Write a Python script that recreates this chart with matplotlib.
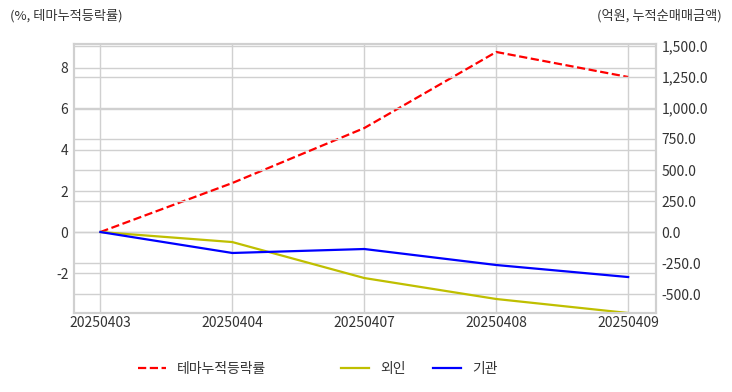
import matplotlib
matplotlib.use('Agg')
import matplotlib.pyplot as plt
from matplotlib.ticker import FuncFormatter, FixedLocator
from matplotlib.lines import Line2D

# 데이터
dates = ['20250403', '20250404', '20250407', '20250408', '20250409']
theme_rate = [0.0, 2.39, 5.07, 8.78, 7.56]          # %, 테마누적등락률
foreign_amt = [0.0, -81.0, -371.0, -540.0, -653.0]   # 억원, 외인
inst_amt = [0.0, -169.0, -137.0, -266.0, -363.0]     # 억원, 기관
left_ticks = [-2, 0, 2, 4, 6, 8]
right_ticks = [-500, -250, 0, 250, 500, 750, 1000, 1250, 1500]

plt.rcParams['font.family'] = ['Noto Sans CJK KR', 'DejaVu Sans']
plt.rcParams['axes.unicode_minus'] = False

GRID = '#d0d0d0'
TXT = '#333333'

fig = plt.figure(figsize=(7.32, 3.92), dpi=100)
ax = fig.add_axes([0.1011, 0.2015, 0.7949, 0.6863])
ax2 = ax.twinx()

x = list(range(len(dates)))
ax.plot(x, theme_rate, 'r--', lw=1.6, label='테마누적등락률')
ax2.plot(x, foreign_amt, color='#bfbf00', lw=1.6, label='외인')
ax2.plot(x, inst_amt, color='#0000ff', lw=1.6, label='기관')

ax.set_xlim(-0.2, 4.21)
ax.set_ylim(-3.95, 9.17)
ax2.set_ylim(-653, 1516)

ax.set_xticks(x)
ax.set_xticklabels(dates)
ax.yaxis.set_major_locator(FixedLocator(left_ticks))
ax2.yaxis.set_major_locator(FixedLocator(right_ticks))
ax2.yaxis.set_major_formatter(FuncFormatter(lambda v, p: f'{v:,.1f}'))

for a in (ax, ax2):
    a.tick_params(length=0, labelsize=10, colors=TXT, pad=4)
    a.grid(True, color=GRID, lw=1.0)
    for s in a.spines.values():
        s.set_color(GRID)
        s.set_linewidth(1.5)
ax2.grid(axis='x', visible=False)
ax.set_axisbelow(True)
ax2.set_axisbelow(True)
ax.tick_params(axis='x', pad=2)

fig.text(10 / 732, 1 - 16 / 392, '(%, 테마누적등락률)', ha='left', va='center',
         fontsize=9.5, color=TXT)
fig.text(722 / 732, 1 - 16 / 392, '(억원, 누적순매매금액)', ha='right', va='center',
         fontsize=9.5, color=TXT)

h1 = [Line2D([], [], color='r', ls='--', lw=1.6)]
h2 = [Line2D([], [], color='#bfbf00', lw=1.6), Line2D([], [], color='#0000ff', lw=1.6)]
leg1 = fig.legend(h1, ['테마누적등락률'], loc='center left', bbox_to_anchor=(0.172, 0.0587),
                  frameon=False, fontsize=10)
leg2 = fig.legend(h2, ['외인', '기관'], loc='center left', bbox_to_anchor=(0.449, 0.0587),
                  frameon=False, fontsize=10, ncol=2)
for lg in (leg1, leg2):
    for t in lg.get_texts():
        t.set_color(TXT)

fig.savefig('out.png', dpi=100)
